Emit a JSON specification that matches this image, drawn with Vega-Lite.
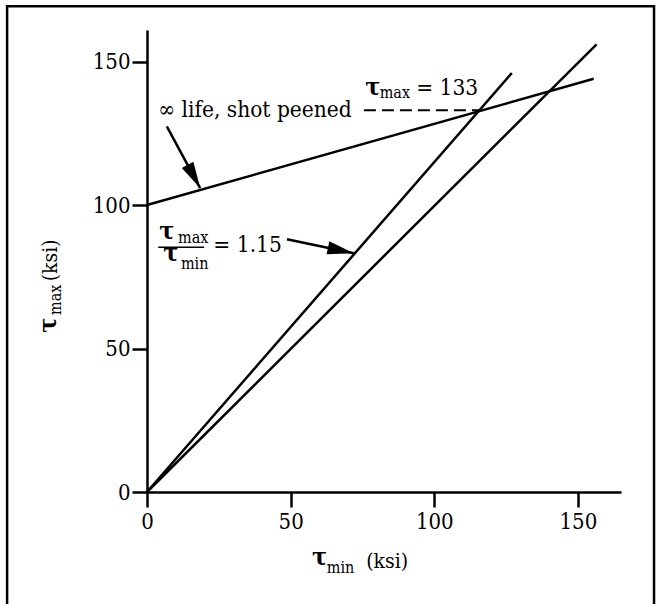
{
  "$schema": "https://vega.github.io/schema/vega-lite/v6.json",
  "width": 474,
  "height": 462,
  "autosize": {"type": "none"},
  "padding": {"left": 147, "top": 30, "right": 41, "bottom": 112},
  "background": "white",
  "config": {
    "view": {"stroke": null},
    "font": "DejaVu Serif Condensed, DejaVu Serif",
    "axis": {
      "domainColor": "black",
      "domainWidth": 2.5,
      "tickColor": "black",
      "tickWidth": 2.5,
      "tickSize": 15,
      "labelFont": "DejaVu Serif Condensed, DejaVu Serif",
      "labelFontSize": 22,
      "labelColor": "black",
      "grid": false,
      "labelFlush": false,
      "title": null
    },
    "axisX": {"labelPadding": 4},
    "axisY": {"labelPadding": 2},
    "text": {"font": "DejaVu Serif Condensed, DejaVu Serif", "color": "black", "align": "left", "baseline": "alphabetic"}
  },
  "datasets": {
    "frame": [
      {"part": "figure border", "x": -48.7, "x2": 176.5, "y": -42.5, "y2": 169.3}
    ],
    "lines": [
      {"series": "infinite life, shot peened", "x": 0, "y": 100},
      {"series": "infinite life, shot peened", "x": 155.5, "y": 144},
      {"series": "ratio 1.15", "x": 0, "y": 0},
      {"series": "ratio 1.15", "x": 127, "y": 146},
      {"series": "ratio 1", "x": 0, "y": 0},
      {"series": "ratio 1", "x": 156.5, "y": 156}
    ],
    "rules": [
      {"kind": "dash", "x": 75.5, "x2": 115.6, "y": 133},
      {"kind": "fraction", "x": 3.9, "x2": 19.9, "y": 85.3}
    ],
    "arrows": [
      {"arrow": "peened", "x": 6.9, "y": 127.4, "x2": 18.5, "y2": 105.9},
      {"arrow": "ratio", "x": 48.7, "y": 88.1, "x2": 72, "y2": 83.2}
    ],
    "texts": [
      {"text": "∞ life, shot peened", "x": 3.9, "y": 130.7, "part": "main", "rotated": false},
      {"text": "τ", "x": 76, "y": 138.5, "part": "symbol", "rotated": false},
      {"text": "max", "x": 81, "y": 137.2, "part": "sub", "rotated": false},
      {"text": "= 133", "x": 93.7, "y": 138.5, "part": "main", "rotated": false},
      {"text": "τ", "x": 4.3, "y": 88.2, "part": "symbol", "rotated": false},
      {"text": "max", "x": 10.8, "y": 86.7, "part": "sub", "rotated": false},
      {"text": "τ", "x": 5.7, "y": 80.6, "part": "symbol", "rotated": false},
      {"text": "min", "x": 11.8, "y": 77.7, "part": "sub", "rotated": false},
      {"text": "= 1.15", "x": 23.1, "y": 83.8, "part": "main", "rotated": false},
      {"text": "τ", "x": 57.4, "y": -25.5, "part": "symbol", "rotated": false},
      {"text": "min", "x": 62.6, "y": -28.4, "part": "sub", "rotated": false},
      {"text": "(ksi)", "x": 76.3, "y": -26.6, "part": "title", "rotated": false},
      {"text": "τ", "x": -31.7, "y": 55.5, "part": "symbol", "rotated": true},
      {"text": "max", "x": -30, "y": 61.7, "part": "sub", "rotated": true},
      {"text": "(ksi)", "x": -31.4, "y": 73.4, "part": "title", "rotated": true}
    ]
  },
  "encoding": {
    "x": {
      "field": "x",
      "type": "quantitative",
      "scale": {"domain": [0, 165], "nice": false, "zero": false},
      "axis": {"values": [0, 50, 100, 150], "title": null}
    },
    "y": {
      "field": "y",
      "type": "quantitative",
      "scale": {"domain": [0, 161], "nice": false, "zero": false},
      "axis": {"values": [0, 50, 100, 150], "title": null}
    }
  },
  "layer": [
    {
      "data": {"name": "frame"},
      "mark": {"type": "rect", "filled": false, "stroke": "black", "strokeWidth": 2.5},
      "encoding": {"x2": {"field": "x2"}, "y2": {"field": "y2"}}
    },
    {
      "data": {"name": "lines"},
      "mark": {"type": "line", "color": "black", "strokeWidth": 2.5},
      "encoding": {"detail": {"field": "series"}}
    },
    {
      "data": {"name": "rules"},
      "transform": [{"filter": "datum.kind === 'dash'"}],
      "mark": {"type": "rule", "color": "black", "strokeWidth": 2, "strokeDash": [12, 6]},
      "encoding": {"x2": {"field": "x2"}}
    },
    {
      "data": {"name": "rules"},
      "transform": [{"filter": "datum.kind === 'fraction'"}],
      "mark": {"type": "rule", "color": "black", "strokeWidth": 1.5},
      "encoding": {"x2": {"field": "x2"}}
    },
    {
      "data": {"name": "arrows"},
      "mark": {"type": "rule", "color": "black", "strokeWidth": 2.5},
      "encoding": {"x2": {"field": "x2"}, "y2": {"field": "y2"}}
    },
    {
      "data": {"name": "arrows"},
      "transform": [{"filter": "datum.arrow === 'peened'"}],
      "mark": {"type": "point", "shape": "M0,0 L-0.5,2 L0.5,2 Z", "filled": true, "color": "black", "opacity": 1, "size": 700, "angle": 151.6},
      "encoding": {"x": {"field": "x2", "type": "quantitative"}, "y": {"field": "y2", "type": "quantitative"}}
    },
    {
      "data": {"name": "arrows"},
      "transform": [{"filter": "datum.arrow === 'ratio'"}],
      "mark": {"type": "point", "shape": "M0,0 L-0.5,2 L0.5,2 Z", "filled": true, "color": "black", "opacity": 1, "size": 700, "angle": 101.9},
      "encoding": {"x": {"field": "x2", "type": "quantitative"}, "y": {"field": "y2", "type": "quantitative"}}
    },
    {
      "data": {"name": "texts"},
      "transform": [{"filter": "datum.part === 'main' && !datum.rotated"}],
      "mark": {"type": "text", "fontSize": 22.5},
      "encoding": {"text": {"field": "text"}}
    },
    {
      "data": {"name": "texts"},
      "transform": [{"filter": "datum.part === 'symbol' && !datum.rotated"}],
      "mark": {"type": "text", "fontSize": 25, "fontWeight": "bold"},
      "encoding": {"text": {"field": "text"}}
    },
    {
      "data": {"name": "texts"},
      "transform": [{"filter": "datum.part === 'sub' && !datum.rotated"}],
      "mark": {"type": "text", "fontSize": 16},
      "encoding": {"text": {"field": "text"}}
    },
    {
      "data": {"name": "texts"},
      "transform": [{"filter": "datum.part === 'title' && !datum.rotated"}],
      "mark": {"type": "text", "fontSize": 21},
      "encoding": {"text": {"field": "text"}}
    },
    {
      "data": {"name": "texts"},
      "transform": [{"filter": "datum.part === 'symbol' && datum.rotated"}],
      "mark": {"type": "text", "fontSize": 25, "fontWeight": "bold", "angle": 270},
      "encoding": {"text": {"field": "text"}}
    },
    {
      "data": {"name": "texts"},
      "transform": [{"filter": "datum.part === 'sub' && datum.rotated"}],
      "mark": {"type": "text", "fontSize": 16, "angle": 270},
      "encoding": {"text": {"field": "text"}}
    },
    {
      "data": {"name": "texts"},
      "transform": [{"filter": "datum.part === 'title' && datum.rotated"}],
      "mark": {"type": "text", "fontSize": 21, "angle": 270},
      "encoding": {"text": {"field": "text"}}
    }
  ]
}
